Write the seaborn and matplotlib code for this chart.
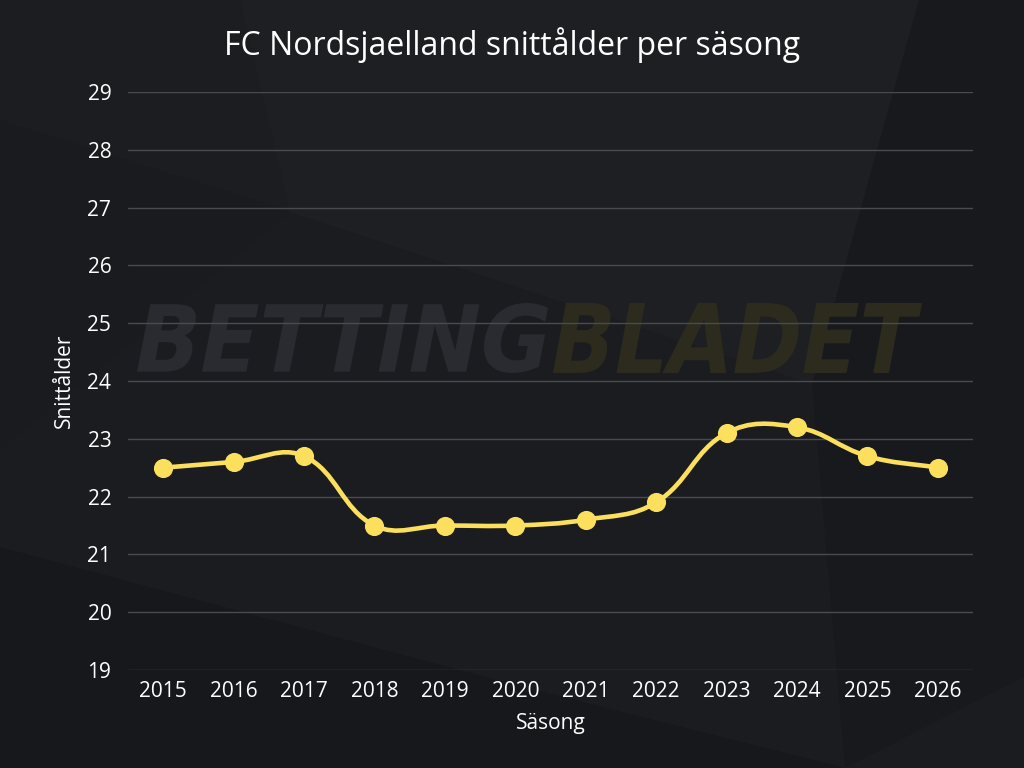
import numpy as np
import pandas as pd
import matplotlib
matplotlib.use("Agg")
import matplotlib.pyplot as plt
import seaborn as sns
from matplotlib.path import Path
from matplotlib.patches import PathPatch, Polygon
from matplotlib.textpath import TextPath
from matplotlib.font_manager import FontProperties
from matplotlib.transforms import Affine2D, IdentityTransform

# data
seasons = [2015, 2016, 2017, 2018, 2019, 2020, 2021, 2022, 2023, 2024, 2025, 2026]
avg_age = [22.5, 22.6, 22.7, 21.5, 21.5, 21.5, 21.6, 21.9, 23.1, 23.2, 22.7, 22.5]
y_ticks = [19, 20, 21, 22, 23, 24, 25, 26, 27, 28, 29]

title = "FC Nordsjaelland snittålder per säsong"
x_label = "Säsong"
y_label = "Snittålder"

BG = "#1b1c20"
LINE = "#fce05d"
GRID = "#4a4b50"
TEXT = "#ffffff"

sns.set_theme(style="dark")
plt.rcParams["font.family"] = ["Open Sans", "DejaVu Sans"]

df = pd.DataFrame({"season": seasons, "age": avg_age})

W, H = 1024, 768
fig = plt.figure(figsize=(W / 100, H / 100), dpi=100)
fig.patch.set_facecolor(BG)

# faint geometric background shapes (pixel coords, y from top)
shapes = [
    ([(0, 0), (240, 0), (290, 210), (0, 120)], "#1c1d21"),
    ([(240, 0), (919, 0), (812, 384), (290, 212)], "#1e1f23"),
    ([(0, 120), (290, 212), (0, 450)], "#1a1b1f"),
    ([(0, 547), (512, 684), (845, 768), (0, 768)], "#17181c"),
    ([(919, 0), (1024, 0), (1024, 677), (845, 768), (812, 384)], "#18191d"),
]
for pts, col in shapes:
    fig.patches.append(Polygon([(x / W, 1 - y / H) for x, y in pts],
                               closed=True, transform=fig.transFigure,
                               facecolor=col, edgecolor="none", zorder=-10))


# watermark: heavy condensed italic word fitted into a pixel box
def watermark(word, x0, x1, y_top, y_bot, color):
    fp = FontProperties(family="DejaVu Sans", weight="bold")
    tp = TextPath((0, 0), word, size=100, prop=fp)
    tp = Affine2D().skew_deg(12, 0).transform_path(tp)
    ext = tp.get_extents()
    sx = (x1 - x0) / ext.width
    sy = (y_bot - y_top) / ext.height
    tr = (Affine2D().translate(-ext.x0, -ext.y0).scale(sx, sy)
          .translate(x0, H - y_bot))
    fig.patches.append(PathPatch(tr.transform_path(tp), facecolor=color,
                                 edgecolor="none", transform=IdentityTransform(),
                                 zorder=-5))


watermark("BETTING", 137, 548, 303, 373, "#2a2b30")
watermark("BLADET", 553, 922, 303, 373, "#2d2b1e")

ax = fig.add_axes([128 / W, 1 - 670 / H, 845 / W, 578 / H])
ax.set_facecolor("none")
ax.set_xlim(seasons[0] - 0.5, seasons[-1] + 0.5)
ax.set_ylim(y_ticks[0], y_ticks[-1])

# smooth line (Chart.js-like tension spline), control points from the data
fig.canvas.draw()
pix = ax.transData.transform(np.column_stack([df["season"], df["age"]]))
tension = 0.4
n = len(pix)
cps_in, cps_out = [], []
for i in range(n):
    prev = pix[max(i - 1, 0)]
    cur = pix[i]
    nxt = pix[min(i + 1, n - 1)]
    d01 = np.hypot(*(cur - prev))
    d12 = np.hypot(*(nxt - cur))
    tot = d01 + d12 if d01 + d12 > 0 else 1
    cps_in.append(cur - tension * d01 / tot * (nxt - prev))
    cps_out.append(cur + tension * d12 / tot * (nxt - prev))
verts, codes = [tuple(pix[0])], [Path.MOVETO]
for i in range(1, n):
    verts += [tuple(cps_out[i - 1]), tuple(cps_in[i]), tuple(pix[i])]
    codes += [Path.CURVE4] * 3
path = Path(ax.transData.inverted().transform(np.array(verts)), codes)
ax.add_patch(PathPatch(path, facecolor="none", edgecolor=LINE, lw=3.3,
                       transform=ax.transData, zorder=3, capstyle="round"))

sns.scatterplot(data=df, x="season", y="age", ax=ax, color=LINE, s=190,
                edgecolor=LINE, linewidth=0, zorder=4, legend=False)

ax.set_xticks(seasons)
ax.set_xticklabels([str(s) for s in seasons])
ax.set_yticks(y_ticks)
ax.grid(axis="y", color=GRID, lw=1)
ax.grid(axis="x", visible=False)
for sp in ax.spines.values():
    sp.set_visible(False)
ax.tick_params(axis="both", length=0, colors=TEXT, labelsize=15)
ax.tick_params(axis="y", pad=12)
ax.tick_params(axis="x", pad=8)
ax.set_xlabel(x_label, color=TEXT, fontsize=15, labelpad=8)
ax.set_ylabel(y_label, color=TEXT, fontsize=15, labelpad=9)

fig.text(0.5, 1 - 45 / H, title, ha="center", va="center", color=TEXT, fontsize=23)

fig.savefig("out.png", dpi=100, facecolor=BG)
